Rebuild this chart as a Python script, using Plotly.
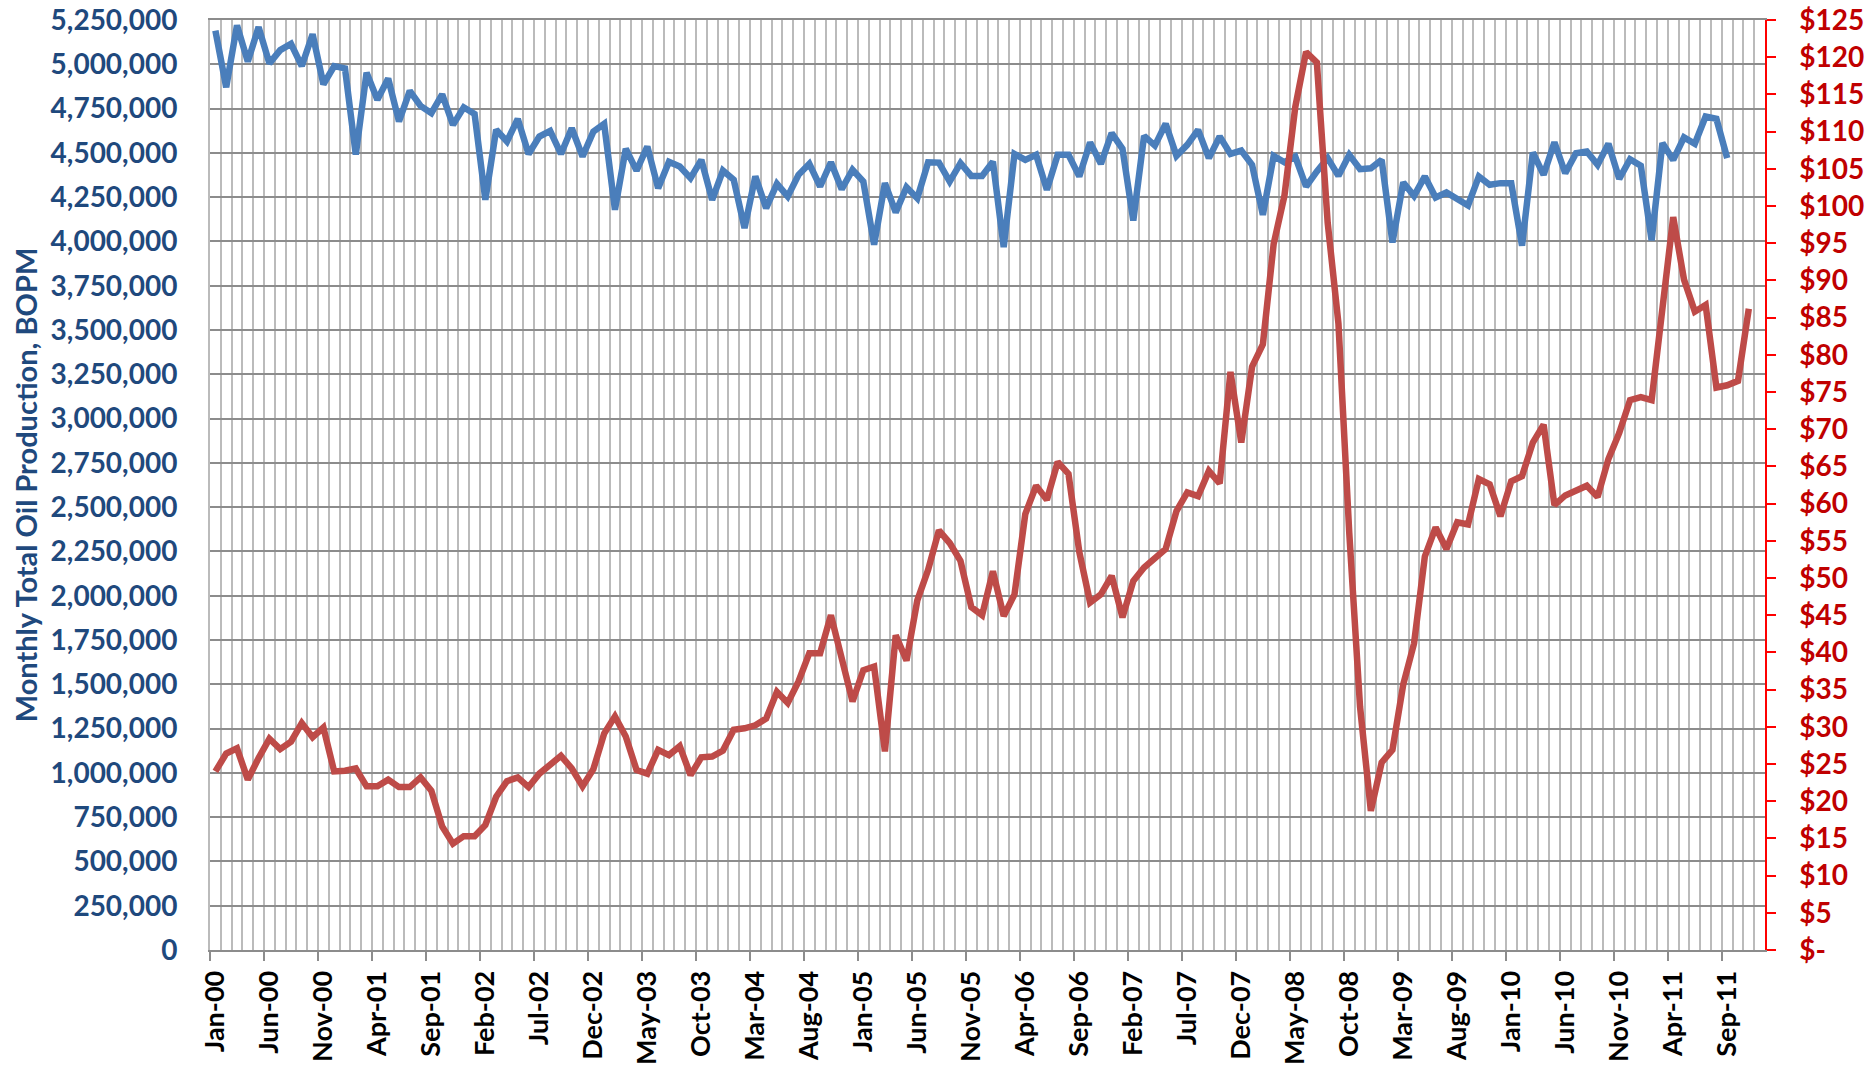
import pandas as pd
import plotly.graph_objects as go

# ---- data ----
months = pd.date_range("2000-01-01", periods=144, freq="MS").strftime("%b-%y").tolist()

oil_bopm = [5190000, 4870000, 5220000, 5015000, 5210000, 5005000, 5080000, 5115000, 4990000, 5170000,
            4887000, 4990000, 4977000, 4490000, 4953000, 4800000, 4920000, 4677000, 4850000, 4765000,
            4724000, 4830000, 4658000, 4757000, 4720000, 4235000, 4630000, 4564000, 4692000, 4494000,
            4592000, 4624000, 4494000, 4639000, 4479000, 4620000, 4664000, 4179000, 4523000, 4400000,
            4536000, 4300000, 4450000, 4423000, 4357000, 4460000, 4235000, 4400000, 4348000, 4075000,
            4367000, 4188000, 4325000, 4254000, 4376000, 4438000, 4310000, 4447000, 4295000, 4404000,
            4338000, 3981000, 4329000, 4164000, 4306000, 4244000, 4447000, 4445000, 4338000, 4442000,
            4370000, 4370000, 4450000, 3968000, 4494000, 4460000, 4489000, 4291000, 4489000, 4489000,
            4367000, 4558000, 4438000, 4611000, 4523000, 4118000, 4596000, 4541000, 4664000, 4483000,
            4545000, 4630000, 4470000, 4592000, 4494000, 4513000, 4432000, 4150000, 4483000, 4447000,
            4479000, 4310000, 4395000, 4470000, 4370000, 4489000, 4408000, 4413000, 4460000, 3994000,
            4333000, 4257000, 4367000, 4248000, 4276000, 4240000, 4203000, 4367000, 4320000, 4329000,
            4329000, 3976000, 4502000, 4376000, 4560000, 4385000, 4498000, 4508000, 4432000, 4551000,
            4353000, 4464000, 4427000, 4006000, 4555000, 4460000, 4587000, 4551000, 4705000, 4692000,
            4470000]

oil_price = [24.0, 26.4, 27.1, 22.9, 25.8, 28.4, 27.0, 28.0, 30.5, 28.6,
             29.9, 24.0, 24.1, 24.4, 22.0, 22.0, 22.9, 21.9, 21.9, 23.2,
             21.4, 16.6, 14.3, 15.3, 15.3, 16.8, 20.6, 22.7, 23.2, 21.9,
             23.7, 25.0, 26.1, 24.4, 22.0, 24.3, 29.1, 31.4, 28.7, 24.2,
             23.7, 26.9, 26.2, 27.4, 23.5, 25.9, 26.0, 26.8, 29.6, 29.8,
             30.2, 31.1, 34.7, 33.2, 36.1, 39.9, 39.9, 45.0, 39.2, 33.4,
             37.6, 38.1, 26.7, 42.3, 38.9, 47.0, 51.1, 56.4, 54.7, 52.3,
             46.1, 45.0, 50.9, 44.9, 47.8, 58.6, 62.4, 60.5, 65.6, 64.0,
             53.5, 46.7, 47.8, 50.3, 44.7, 49.6, 51.4, 52.8, 53.9, 59.0,
             61.5, 61.0, 64.4, 62.7, 77.7, 68.2, 78.4, 81.4, 94.9, 101.4,
             113.3, 120.7, 119.3, 97.8, 84.2, 56.1, 32.7, 18.7, 25.2, 26.9,
             35.7, 41.2, 52.9, 56.8, 53.9, 57.5, 57.2, 63.3, 62.6, 58.3,
             63.0, 63.7, 68.2, 70.6, 59.8, 61.1, 61.7, 62.4, 60.9, 66.0,
             69.5, 73.9, 74.3, 73.9, 86.2, 98.5, 90.1, 85.8, 86.7, 75.6,
             75.9, 76.5, 86.2]

label_step = 5
left_ticks = list(range(0, 5250001, 250000))
right_ticks = list(range(0, 126, 5))
right_text = ["$-" if v == 0 else f"${v}" for v in right_ticks]

# ---- figure ----
idx = list(range(len(months)))
fig = go.Figure()
fig.add_trace(go.Scatter(x=idx[:len(oil_bopm)], y=oil_bopm, mode="lines",
                         line=dict(color="#4A7EBB", width=6.5), name="Production",
                         xaxis="x", yaxis="y"))
fig.add_trace(go.Scatter(x=idx[:len(oil_price)], y=oil_price, mode="lines",
                         line=dict(color="#BE4B48", width=6.5), name="Price",
                         xaxis="x", yaxis="y2"))
# empty trace to carry the tick-mark axis
fig.add_trace(go.Scatter(x=[], y=[], xaxis="x2", yaxis="y", showlegend=False))

xr = [-0.5, len(months) - 0.5]
lab_idx = idx[::label_step]
font_bold = dict(family="Lato", weight="bold")

fig.update_layout(
    width=1872, height=1070,
    margin=dict(l=210, r=107, t=20, b=120),
    paper_bgcolor="white", plot_bgcolor="white",
    showlegend=False,
    xaxis=dict(
        range=xr, tickmode="array", tickvals=lab_idx,
        ticktext=[months[i] for i in lab_idx],
        tickangle=-90, ticks="", showgrid=False, zeroline=False,
        tickfont=dict(size=27, color="black", **font_bold),
        ticklabelstandoff=8, automargin=False,
        showline=True, linecolor="#8C8C8C", linewidth=2, mirror=True,
        minor=dict(tick0=-0.5, dtick=1, showgrid=True, gridcolor="#BBBBBB", gridwidth=2, ticks=""),
    ),
    xaxis2=dict(
        range=xr, overlaying="x", anchor="y", side="bottom",
        tickmode="array", tickvals=[i - 0.5 for i in lab_idx],
        ticks="outside", ticklen=10, tickwidth=2, tickcolor="#8C8C8C",
        showticklabels=False, showgrid=False, zeroline=False, automargin=False,
    ),
    yaxis=dict(
        range=[0, 5250000], tickmode="array", tickvals=left_ticks,
        tickformat=",d", ticks="", showgrid=True, gridcolor="#8C8C8C", gridwidth=2,
        zeroline=False, showline=True, linecolor="#BBBBBB", linewidth=2,
        tickfont=dict(size=28, color="#1F497D", **font_bold),
        ticklabelstandoff=25, automargin=False,
        title=dict(text="Monthly Total Oil Production, BOPM",
                   font=dict(size=29, color="#1F497D", **font_bold), standoff=4),
    ),
    yaxis2=dict(
        range=[0, 125], overlaying="y", side="right", anchor="x",
        tickmode="array", tickvals=right_ticks, ticktext=right_text,
        ticks="outside", ticklen=9, tickwidth=1.5, tickcolor="#FF0000",
        showgrid=False, zeroline=False, automargin=False,
        showline=True, linecolor="#FF0000", linewidth=1.5,
        tickfont=dict(size=28, color="#C00000", **font_bold),
        ticklabelstandoff=18,
    ),
)

fig.write_html("out.html", config={"displayModeBar": False},
               post_script="document.body.style.margin='0';")
